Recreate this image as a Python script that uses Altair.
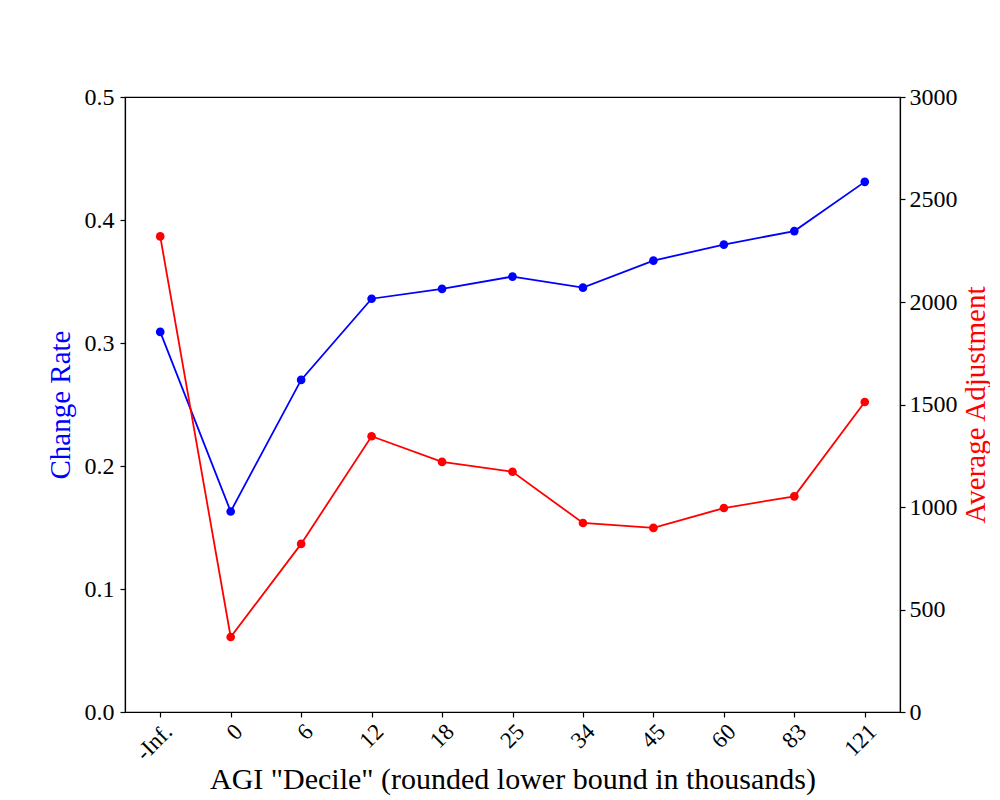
import altair as alt
import pandas as pd

categories = ["-Inf.", "0", "6", "12", "18", "25", "34", "45", "60", "83", "121"]
change_rate = [0.309, 0.163, 0.270, 0.336, 0.344, 0.354, 0.345, 0.367, 0.380, 0.391, 0.431]
avg_adjustment = [2320, 366, 820, 1345, 1220, 1172, 922, 898, 995, 1052, 1512]

df = pd.DataFrame({"cat": categories, "rate": change_rate, "adj": avg_adjustment})

FONT = "Liberation Serif"

x = alt.X("cat:N", sort=categories, scale=alt.Scale(type="point", padding=0.5),
          axis=alt.Axis(title='AGI "Decile" (rounded lower bound in thousands)',
                        labelAngle=-45, labelAlign="right", labelBaseline="top",
                        labelFontSize=23, titleFontSize=30, titlePadding=0,
                        tickSize=5, labelPadding=3))

blue = alt.Chart(df).encode(
    x=x,
    y=alt.Y("rate:Q", scale=alt.Scale(domain=[0, 0.5], nice=False),
            axis=alt.Axis(title="Change Rate", titleColor="#0000ff", values=[0, 0.1, 0.2, 0.3, 0.4, 0.5],
                          format=".1f", labelFontSize=24, titleFontSize=29, tickSize=5,
                          labelPadding=6, titlePadding=9, grid=False)),
)
blue_chart = blue.mark_line(color="#0000ff", strokeWidth=1.8) + blue.mark_circle(color="#0000ff", size=75, opacity=1)

red = alt.Chart(df).encode(
    x=x,
    y=alt.Y("adj:Q", scale=alt.Scale(domain=[0, 3000], nice=False),
            axis=alt.Axis(title="Average Adjustment", titleColor="#ff0000", orient="right",
                          values=[0, 500, 1000, 1500, 2000, 2500, 3000], format="d",
                          labelFontSize=24, titleFontSize=29, tickSize=5, titleAngle=270,
                          titleBaseline="top", labelPadding=4, titlePadding=4, grid=False)),
)
red_chart = red.mark_line(color="#ff0000", strokeWidth=1.8) + red.mark_circle(color="#ff0000", size=75, opacity=1)

chart = alt.layer(blue_chart, red_chart).resolve_scale(y="independent").properties(
    width=775, height=615,
    autosize=alt.AutoSizeParams(type="none"),
    padding={"left": 117, "top": 89, "right": 90, "bottom": 86},
    background="white",
).configure_view(stroke="black", strokeWidth=1.2).configure_axis(
    labelFont=FONT, titleFont=FONT, labelColor="black", titleFontWeight="normal",
    domainColor="black", tickColor="black", domainWidth=1.2, tickWidth=1.2,
)

chart.save("out.html", embed_options={"renderer": "svg", "actions": False})
